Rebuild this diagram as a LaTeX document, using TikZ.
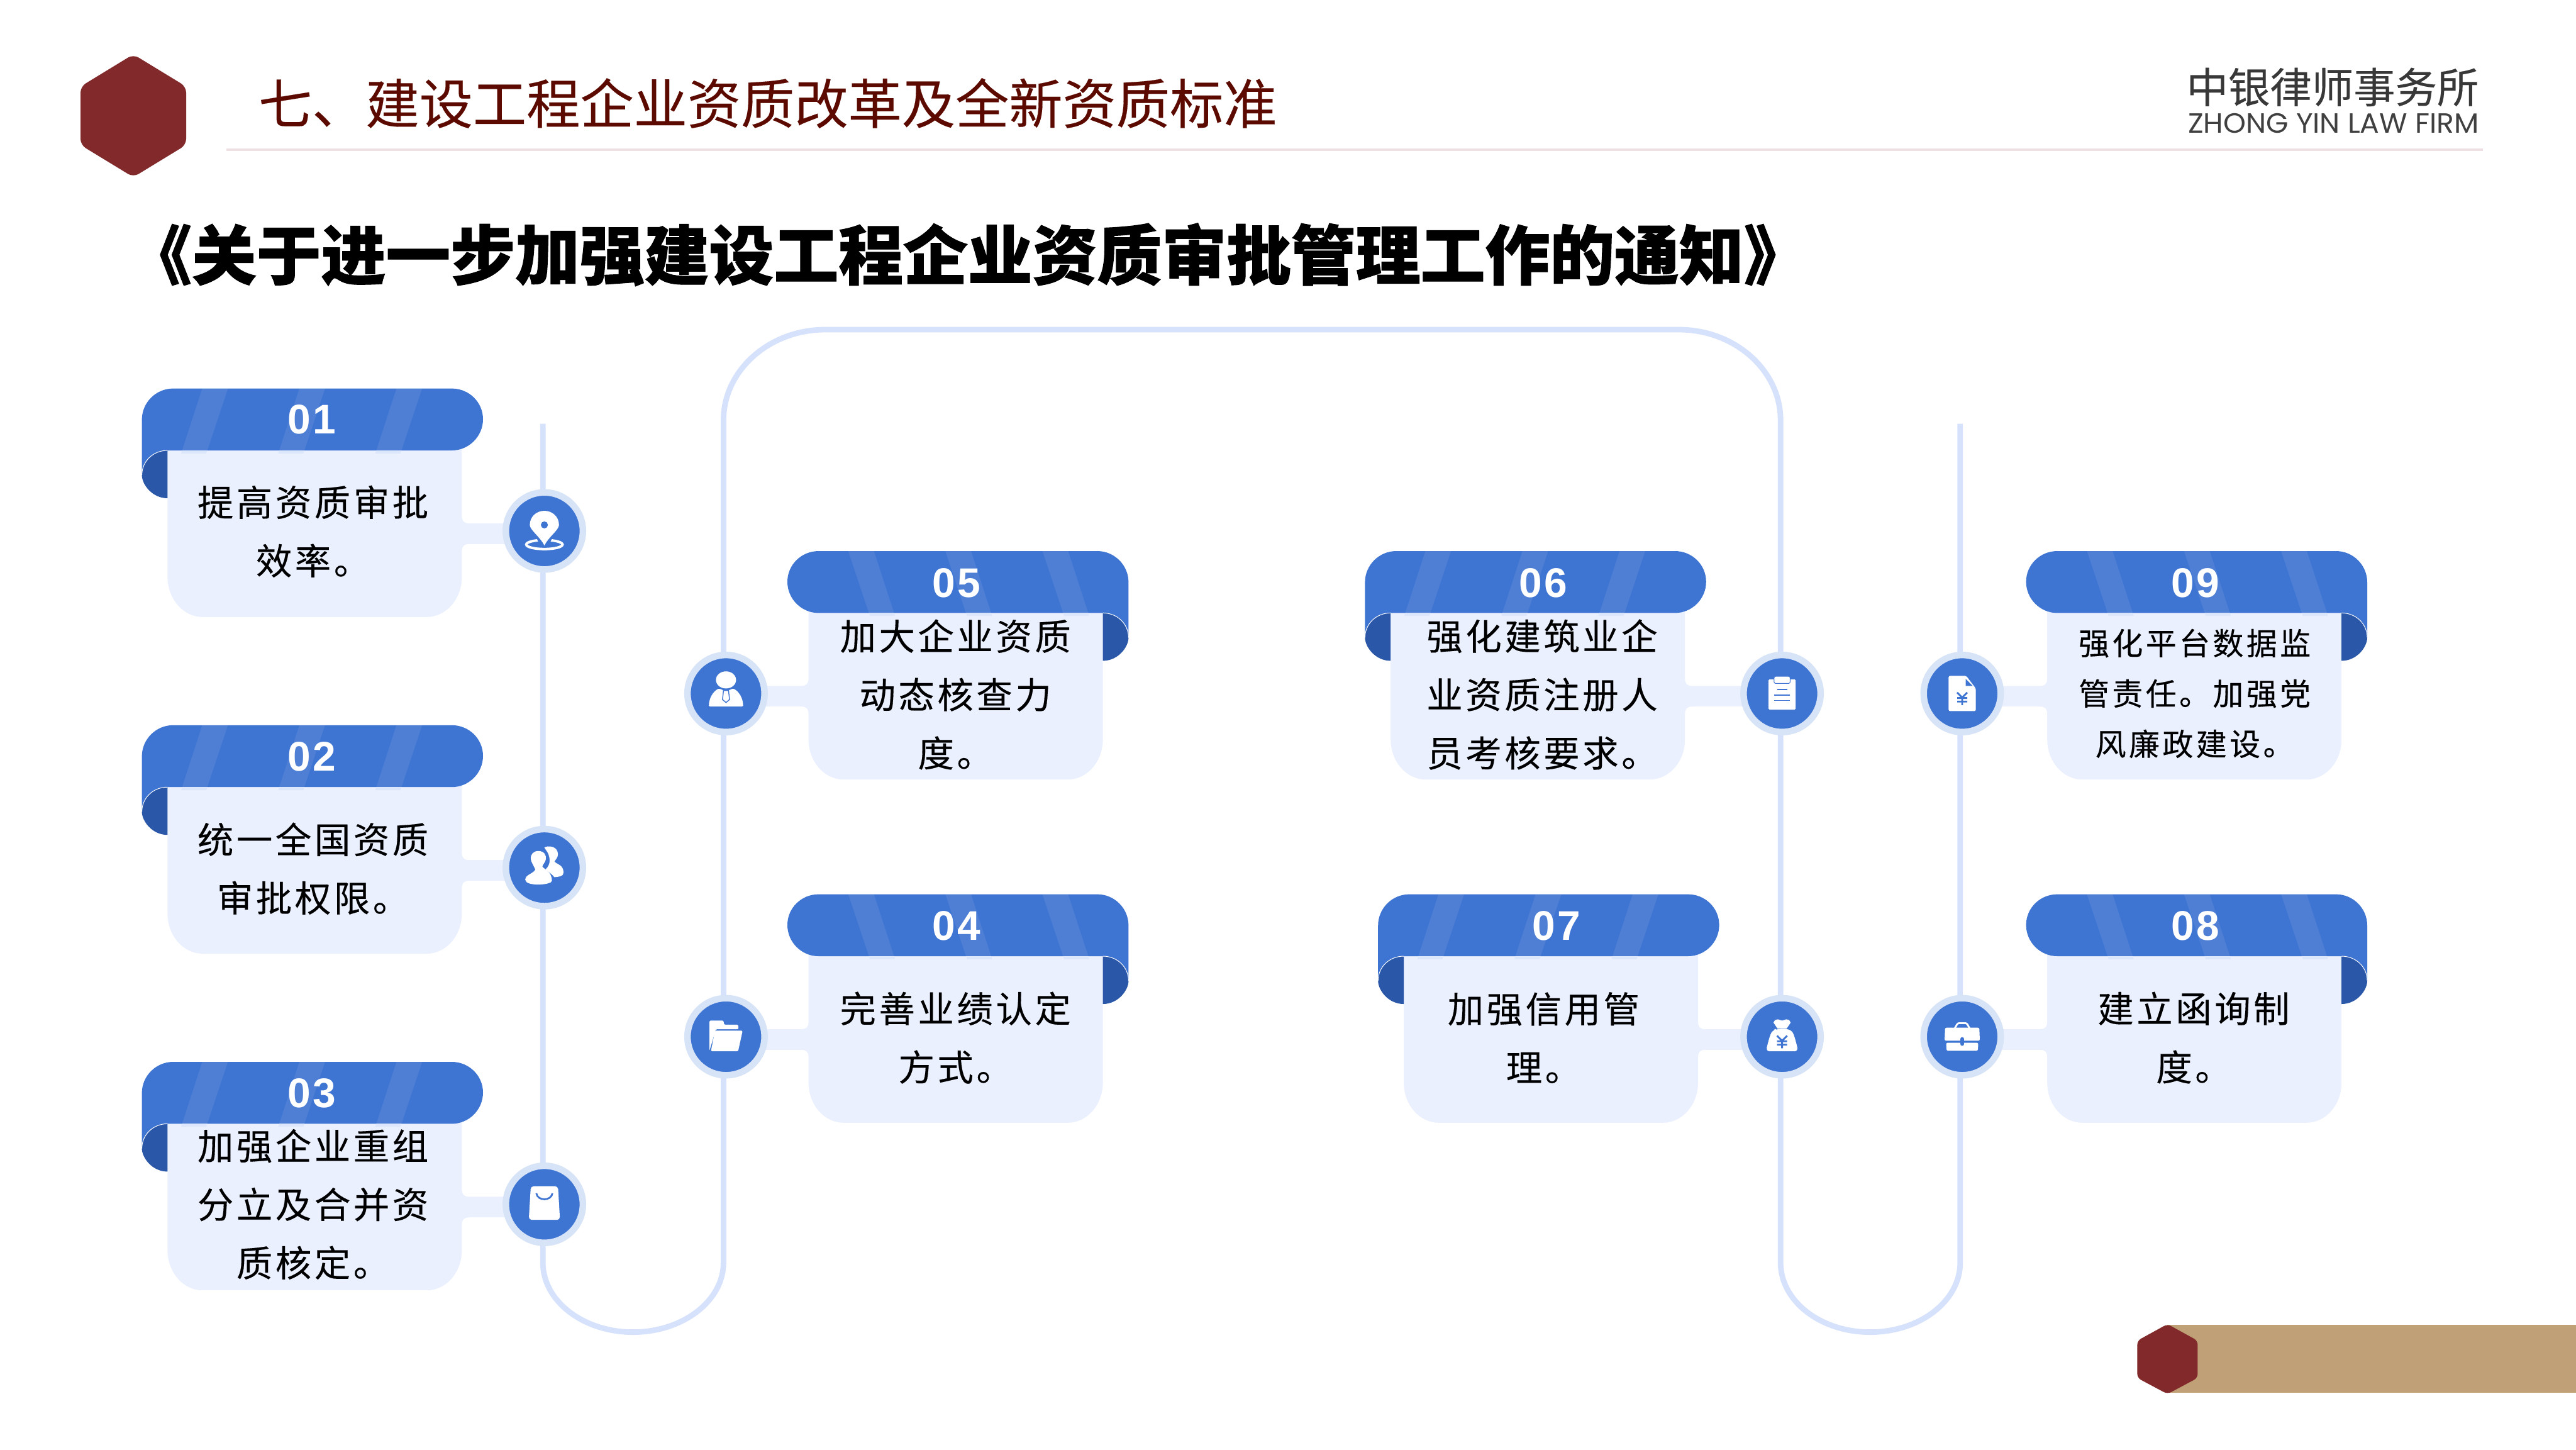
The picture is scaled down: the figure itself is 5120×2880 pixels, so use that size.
\documentclass[tikz,border=0pt]{standalone}
\usepackage{fontspec}
\setmainfont{Liberation Sans}
\newfontfamily\cjk[FakeBold=0.2]{Noto Sans CJK SC}
\newfontfamily\cjkbody[LetterSpace=8,FakeBold=0.25]{Noto Sans CJK SC}
\newfontfamily\cjksmall[LetterSpace=9,FakeBold=0.25]{Noto Sans CJK SC}
\newfontfamily\titlefont[FakeBold=1]{Noto Sans CJK SC}
\newfontfamily\enlogo{Poppins}
\newfontfamily\numfont[LetterSpace=5]{Liberation Sans}
\definecolor{trackc}{HTML}{D6E2FC}
\definecolor{bodyc}{HTML}{EAF0FE}
\definecolor{headc}{HTML}{3F75D2}
\definecolor{foldc}{HTML}{2A57A7}
\definecolor{ringc}{HTML}{D7E3F6}
\definecolor{stripec}{HTML}{DDE7FB}
\definecolor{hexc}{HTML}{822A2B}
\definecolor{goldc}{HTML}{BFA077}
\definecolor{darkred}{HTML}{5C0A00}
\definecolor{rulec}{HTML}{EFE0E3}
\tikzset{
  track/.style={draw=trackc,line width=0.11cm},
  dotn/.style={circle,fill=headc,draw=ringc,line width=0.13cm,minimum size=1.53cm,inner sep=0pt},
  numt/.style={text=white,inner sep=0pt,font=\fontsize{23.4}{25}\selectfont\numfont\bfseries},
  bodyt/.style={text=black,inner sep=0pt,align=center,font=\fontsize{20.4}{33}\selectfont\cjkbody},
  smallt/.style={text=black,inner sep=0pt,align=center,font=\fontsize{17.4}{28.45}\selectfont\cjksmall},
}
% #1 fold-edge x, #2 top y, #3 mirror (1 or -1), #4 distance to the circle
\newcommand\cardshape[4]{%
\begin{scope}[shift={(#1,#2)},xscale=#3]
 \fill[bodyc] (51,100) -- (636,100) -- (636,253) .. controls (636,264) and (640,268) .. (651,268) -- (#4,268) -- (#4,309) -- (651,309) .. controls (640,309) and (636,313) .. (636,324) -- (636,374) .. controls (636,418) and (605,454) .. (566,454) -- (121,454) .. controls (82,454) and (51,418) .. (51,374) -- cycle;
 \fill[headc] (62,0) -- (616,0) .. controls (650,0) and (678,27) .. (678,61) .. controls (678,95) and (650,123) .. (616,123) -- (51,123) .. controls (22,123) and (0,145) .. (0,172) -- (0,62) .. controls (0,28) and (28,0) .. (62,0) -- cycle;
 \fill[foldc] (51,123) .. controls (22,123) and (0,145) .. (0,172) .. controls (0,190) and (20,218) .. (51,218) -- cycle;
 \draw[white,line width=0.012cm] (51,123) .. controls (22,123) and (0,145) .. (0,172);
 \foreach \dx in {0,193,386}{
  \fill[white,opacity=0.08] (120+\dx,0) -- (171+\dx,0) -- (130+\dx,123) -- (80+\dx,123) -- cycle;
  \fill[stripec] (80+\dx,123) -- (130+\dx,123) -- (128+\dx,129) -- (78+\dx,129) -- cycle;
 }
\end{scope}}
\newcommand\iconpin{%
 \draw[white,line width=0.05cm] (0,27) ellipse [x radius=36,y radius=9];
 \fill[headc] (-20,5) -- (20,5) -- (8,30) -- (-8,30) -- cycle;
 \fill[white] (0,29) .. controls (-8,12) and (-29,-2) .. (-29,-12) .. controls (-29,-28) and (-16,-40) .. (0,-40) .. controls (16,-40) and (29,-28) .. (29,-12) .. controls (29,-2) and (8,12) .. (0,29) -- cycle;
 \fill[headc] (0,-12) circle [radius=7];}
\newcommand\iconpeople{%
 \fill[white] (0,-40) .. controls (6,-44) and (26,-44) .. (27,-27) .. controls (27,-20) and (22,-16) .. (20,-12) .. controls (25,-6) and (38,-6) .. (38,10) .. controls (38,18) and (28,18) .. (20,19) .. controls (14,12) and (8,8) .. (2,4) .. controls (8,-2) and (14,-10) .. (8,-27) .. controls (6,-32) and (2,-36) .. (0,-40) -- cycle;
 \fill[white] (-12,-33) .. controls (0,-33) and (4,-24) .. (3,-17) .. controls (2,-10) and (-4,-6) .. (-4,-2) .. controls (0,4) and (14,6) .. (15,26) .. controls (15,35) and (-38,38) .. (-38,24) .. controls (-38,14) and (-22,12) .. (-18,4) .. controls (-22,-6) and (-26,-10) .. (-27,-17) .. controls (-28,-25) and (-23,-33) .. (-12,-33) -- cycle;}
\newcommand\iconbag{%
 \fill[white,rounded corners=0.06cm] (-27,-36) -- (27,-36) -- (31,31) -- (-31,31) -- cycle;
 \draw[headc,line width=0.035cm] (-16,-22) .. controls (-14,-6) and (14,-6) .. (16,-22);}
\newcommand\iconfolder{%
 \fill[white,rounded corners=0.02cm] (-33,28) -- (-33,-32) -- (-5,-32) -- (-4,-24) -- (24,-24) -- (25,-15) -- (-20,-15) -- cycle;
 \fill[white,rounded corners=0.02cm] (-22,-12) -- (33,-12) -- (24,29) -- (-30,29) -- cycle;}
\newcommand\iconman{%
 \fill[white] (0,-27) ellipse [x radius=20,y radius=17];
 \fill[white,rounded corners=0.02cm] (-34,26) .. controls (-34,10) and (-26,-4) .. (-14,-10) -- (0,-4) -- (14,-10) .. controls (26,-4) and (34,10) .. (34,26) -- cycle;
 \fill[white] (-5,-6) -- (5,-6) -- (7,12) -- (0,18) -- (-7,12) -- cycle;
 \draw[headc,line width=0.018cm] (-5,-6) -- (5,-6) -- (7,12) -- (0,18) -- (-7,12) -- cycle;}
\newcommand\iconclip{%
 \fill[white,rounded corners=0.02cm] (-27,-28) -- (27,-28) -- (27,32) -- (-27,32) -- cycle;
 \fill[white,draw=headc,line width=0.012cm,rounded corners=0.03cm] (-16,-34) rectangle (16,-20);
 \draw[headc,line width=0.02cm] (-10,-8) -- (10,-8) (-16,3) -- (16,3) (-16,14) -- (16,14);}
\newcommand\yenmark{%
 \draw[headc,line width=0.035cm] (-10,-11) -- (0,-1) -- (10,-11) (0,-1) -- (0,14) (-10,0) -- (10,0) (-10,7) -- (10,7);}
\newcommand\iconmoney{%
 \fill[white] (-17,-28) .. controls (-12,-40) and (-4,-32) .. (0,-32) .. controls (4,-32) and (12,-40) .. (17,-28) -- (9,-16) -- (-9,-16) -- cycle;
 \fill[white,rounded corners=0.02cm] (-14,-14) .. controls (0,-16) and (6,-16) .. (14,-14) .. controls (22,-10) and (24,-4) .. (31,24) -- (28,29) -- (-28,29) -- (-31,24) .. controls (-24,-4) and (-22,-10) .. (-14,-14) -- cycle;
 \begin{scope}[shift={(0,9)}]\yenmark\end{scope}}
\newcommand\icondoc{%
 \fill[white,rounded corners=0.03cm] (-27,-35) -- (8,-35) -- (27,-10) -- (27,35) -- (-27,35) -- cycle;
 \fill[headc] (7,-29) -- (7,-15) -- (21,-15) -- cycle;
 \begin{scope}[shift={(0,9)}]\yenmark\end{scope}}
\newcommand\iconcase{%
 \draw[white,line width=0.035cm,rounded corners=0.03cm] (-15,-16) -- (-9,-27) -- (9,-27) -- (15,-16);
 \fill[white,rounded corners=0.03cm] (-34,-18) -- (34,-18) -- (35,8) -- (-35,8) -- cycle;
 \fill[white,rounded corners=0.03cm] (-32,12) -- (32,12) -- (31,28) -- (-31,28) -- cycle;
 \fill[headc,rounded corners=0.03cm] (-3.5,1) rectangle (3.5,18);}
\begin{document}
\begin{tikzpicture}[x=0.01cm,y=-0.01cm]
\useasboundingbox (0,0) rectangle (5120,2880);
\fill[white] (0,0) rectangle (5120,2880);
% page furniture
\fill[hexc,rounded corners=0.12cm] (265,108) -- (370,172) -- (370,288) -- (265,352) -- (160,288) -- (160,172) -- cycle;
\fill[rulec] (450,295) rectangle (4935,300);
\node[anchor=west,inner sep=0pt,text=darkred,font=\fontsize{30.3}{32}\selectfont\cjk] (head) at (513,205) {七、建设工程企业资质改革及全新资质标准};
\node[anchor=west,inner sep=0pt,font=\fontsize{36.55}{40}\selectfont\titlefont\bfseries] (title) at (252,506) {《关于进一步加强建设工程企业资质审批管理工作的通知》};
\node[anchor=west,inner sep=0pt,text=black!78,font=\fontsize{23.6}{25}\selectfont\cjk] (logocn) at (4345,173) {中银律师事务所};
\node[inner sep=0pt,text=black!75,font=\enlogo] (logoen) at (4638,245) {\resizebox{5.78cm}{0.39cm}{ZHONG YIN LAW FIRM}};
\fill[goldc] (4308,2632) rectangle (5120,2768);
\fill[hexc,rounded corners=0.08cm] (4308,2631) -- (4368,2664) -- (4368,2738) -- (4308,2770) -- (4248,2738) -- (4248,2664) -- cycle;
% track
\coordinate (ts1) at (1079,842);
\coordinate (tb1) at (1079,2509);
\coordinate (bm1) at (1258,2647);
\coordinate (tb2) at (1438,2509);
\coordinate (tt1) at (1438,835);
\coordinate (tl) at (1640,655);
\coordinate (tr) at (3337,655);
\coordinate (tt2) at (3539,835);
\coordinate (tb3) at (3539,2509);
\coordinate (bm2) at (3717,2647);
\coordinate (tb4) at (3896,2509);
\coordinate (te) at (3896,842);
\draw[track] (ts1) -- (tb1) .. controls (1079,2585) and (1159,2647) .. (bm1) .. controls (1357,2647) and (1438,2585) .. (tb2) -- (tt1) .. controls (1438,735) and (1530,655) .. (tl) -- (tr) .. controls (3447,655) and (3539,735) .. (tt2) -- (tb3) .. controls (3539,2585) and (3618,2647) .. (bm2) .. controls (3816,2647) and (3896,2585) .. (tb4) -- (te);
% cards
\cardshape{282}{772}{1}{800}
\cardshape{282}{1441}{1}{800}
\cardshape{282}{2110}{1}{800}
\cardshape{2243}{1095}{-1}{800}
\cardshape{2243}{1777}{-1}{800}
\cardshape{2713}{1095}{1}{829}
\cardshape{2739}{1777}{1}{803}
\cardshape{4705}{1095}{-1}{805}
\cardshape{4705}{1777}{-1}{805}
% circles
\node[dotn] (c1) at (1082,1055) {};
\node[dotn] (c2) at (1082,1724) {};
\node[dotn] (c3) at (1082,2393) {};
\node[dotn] (c5) at (1443,1378) {};
\node[dotn] (c4) at (1443,2060) {};
\node[dotn] (c6) at (3542,1378) {};
\node[dotn] (c7) at (3542,2060) {};
\node[dotn] (c9) at (3900,1378) {};
\node[dotn] (c8) at (3900,2060) {};
\begin{scope}[shift={(c1)}]\iconpin\end{scope}
\begin{scope}[shift={(c2)}]\iconpeople\end{scope}
\begin{scope}[shift={(c3)}]\iconbag\end{scope}
\begin{scope}[shift={(c5)}]\iconman\end{scope}
\begin{scope}[shift={(c4)}]\iconfolder\end{scope}
\begin{scope}[shift={(c6)}]\iconclip\end{scope}
\begin{scope}[shift={(c7)}]\iconmoney\end{scope}
\begin{scope}[shift={(c9)}]\icondoc\end{scope}
\begin{scope}[shift={(c8)}]\iconcase\end{scope}
% numbers
\node[numt] (n1) at (620,834) {01};
\node[numt] (n2) at (620,1503) {02};
\node[numt] (n3) at (620,2172) {03};
\node[numt] (n5) at (1901,1158) {05};
\node[numt] (n4) at (1901,1840) {04};
\node[numt] (n6) at (3067,1158) {06};
\node[numt] (n7) at (3093,1840) {07};
\node[numt] (n9) at (4364,1158) {09};
\node[numt] (n8) at (4364,1840) {08};
% texts
\node[bodyt] (t1) at (622,1056) {提高资质审批\\效率。};
\node[bodyt] (t2) at (622,1726) {统一全国资质\\审批权限。};
\node[bodyt] (t3) at (622,2393) {加强企业重组\\分立及合并资\\质核定。};
\node[bodyt] (t5) at (1899,1380) {加大企业资质\\动态核查力\\度。};
\node[bodyt] (t4) at (1899,2062) {完善业绩认定\\方式。};
\node[bodyt] (t6) at (3065,1380) {强化建筑业企\\业资质注册人\\员考核要求。};
\node[bodyt] (t7) at (3068,2062) {加强信用管\\理。};
\node[smallt] (t9) at (4362,1378) {强化平台数据监\\管责任。加强党\\风廉政建设。};
\node[bodyt] (t8) at (4360,2062) {建立函询制\\度。};
\end{tikzpicture}
\end{document}
